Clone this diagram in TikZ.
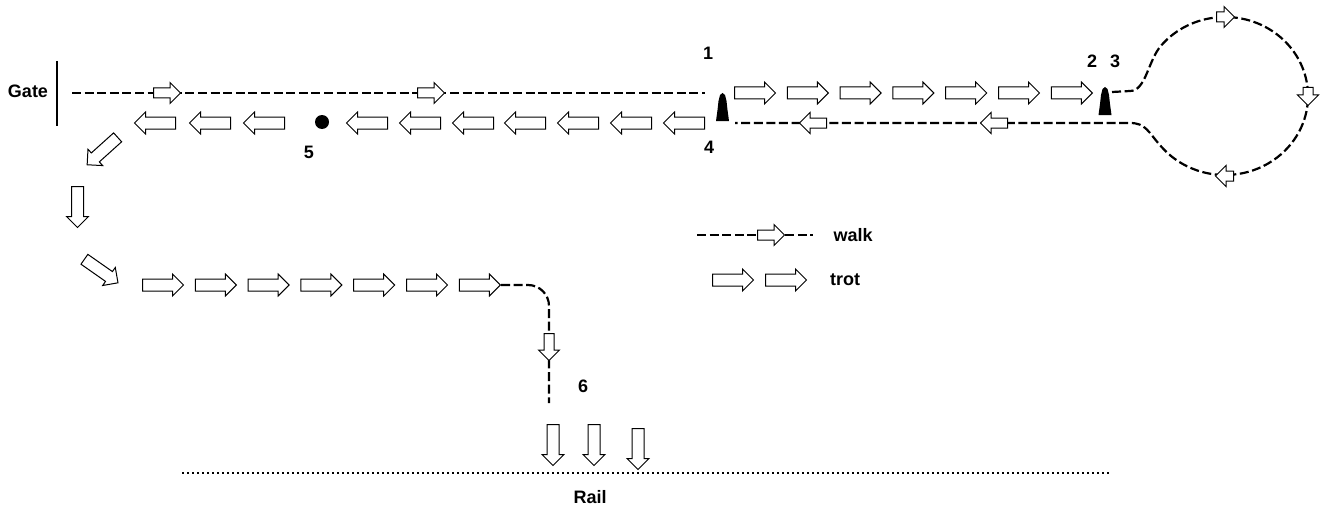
\documentclass[tikz,border=0pt]{standalone}
\usepackage{fontspec}
\setmainfont{Liberation Sans}
\usepackage{tikz}
\usetikzlibrary{shapes.arrows}

\tikzset{
  walkline/.style={line width=1.1pt, dash pattern=on 4.5pt off 1.8pt},
  railline/.style={line width=1pt, dash pattern=on 1pt off 1.5pt},
  trotarrow/.style={single arrow, draw, fill=white, line width=0.5pt, inner xsep=0pt, inner ysep=2.75pt,
    minimum height=20.5pt, single arrow head extend=2.5pt, anchor=tail},
  walkarrow/.style={trotarrow, minimum height=13.5pt, inner ysep=2.25pt, single arrow head extend=2.75pt},
  loopwalkarrow/.style={walkarrow, minimum height=9pt},
  txt/.style={font=\fontsize{9}{11}\selectfont\bfseries, inner sep=0pt},
}

\begin{document}
\begin{tikzpicture}[x=0.5pt, y=-0.5pt]
    \useasboundingbox (0,0) rectangle (1320,508);

    \node[txt] (gate) at (28,91) {Gate};
    \draw [line width=1pt] (57,61) -- (57,126);

    \draw [walkline] (72,93) -- (705,93);
    \draw [walkline] (1112,92) -- (1130,91)
      .. controls (1146,91) and (1148,60) .. (1161.42,45.22)
      arc [start angle=-140, end angle=140, x radius=83, y radius=79]
      .. controls (1148,132) and (1146,123) .. (1130,123) -- (735,123);

    \foreach \cx/\cy in {722.5/121, 1105/115}
      \fill [shift={(\cx,\cy)}] (-6.5,0) -- (-5,-11) -- (-4,-20) -- (-2.5,-26)
        -- (0,-28) -- (2.5,-26) -- (4,-20) -- (5,-11) -- (6.5,0) -- cycle;

    \node[txt] (n1) at (708,53) {1};
    \node[txt] (n4) at (709,147) {4};
    \node[txt] (n2) at (1092,61) {2};
    \node[txt] (n3) at (1115,61) {3};
    \node[txt] (n5) at (309,152) {5};
    \node[txt] (n6) at (583,386) {6};

    \node[walkarrow] (wa1) at (153,93) {};
    \node[walkarrow] (wa2) at (417,93) {};
    \node[walkarrow, rotate=180] (wb1) at (827,123) {};
    \node[walkarrow, rotate=180] (wb2) at (1008,123) {};
    \node[loopwalkarrow] (lp1) at (1216,17) {};
    \node[loopwalkarrow, rotate=-90] (lp2) at (1308,87) {};
    \node[loopwalkarrow, rotate=180] (lp3) at (1234,176) {};

    \foreach \i in {1,...,7}
      \node[trotarrow] (out\i) at (734+52.8*\i-52.8,93) {};
    \foreach \x [count=\i] in {176,231,285,388,441,494,546,599,652,705}
      \node[trotarrow, rotate=180] (back\i) at (\x,123) {};
    \fill (322,122) circle [radius=7];

    \node[trotarrow, rotate=222] (sw) at (118,137) {};
    \node[trotarrow, rotate=-90] (down) at (77.5,186) {};
    \node[trotarrow, rotate=-35] (se) at (84,259) {};
    \foreach \i in {1,...,7}
      \node[trotarrow] (fwd\i) at (142+52.8*\i-52.8,285) {};

    \draw [walkline] (fwd7.tip) -- (528,285) arc [start angle=-90, end angle=0, radius=21] -- (549,403);
    \node[walkarrow, rotate=-90] (wdown) at (549,333) {};

    \foreach \x/\y [count=\i] in {553/424, 594/424, 638/428}
      \node[trotarrow, rotate=-90] (rail\i) at (\x,\y) {};
    \draw [railline] (182,473) -- (1112,473);
    \node[txt] (rail) at (590,497) {Rail};

    \draw [walkline] (697,235) -- (813,235);
    \node[walkarrow] (keywalk) at (757,235) {};
    \node[txt] (walk) at (853,235) {walk};
    \node[trotarrow] (keytrot1) at (712,280) {};
    \node[trotarrow] (keytrot2) at (765,280) {};
    \node[txt] (trot) at (845,280) {trot};
\end{tikzpicture}
\end{document}
